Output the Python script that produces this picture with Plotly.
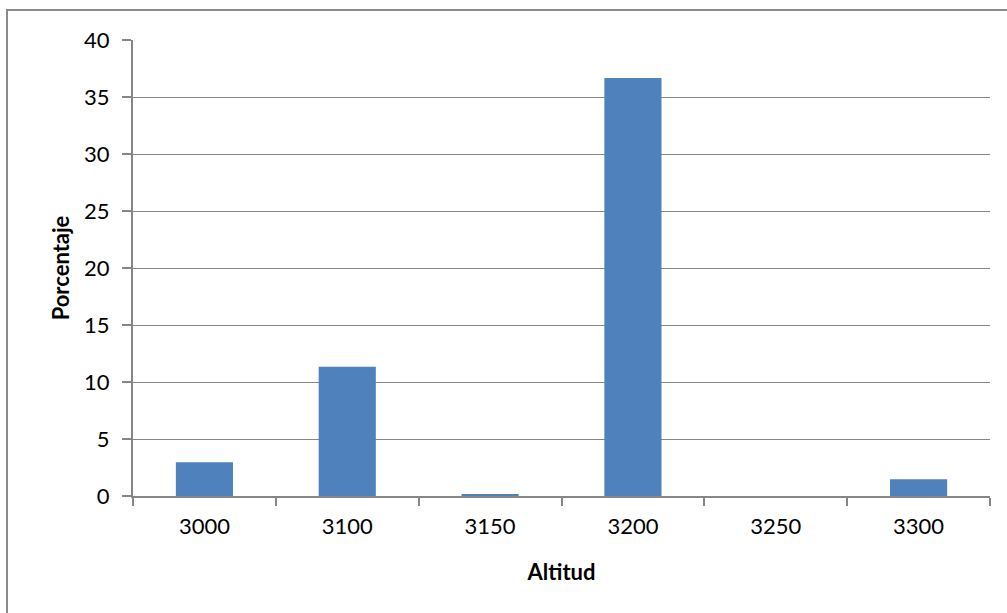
import plotly.graph_objects as go

# Altitude classes and percentage of records in each
altitudes = ["3000", "3100", "3150", "3200", "3250", "3300"]
percentages = [2.96, 11.34, 0.12, 36.67, 0.0, 1.46]
y_ticks = [0, 5, 10, 15, 20, 25, 30, 35, 40]

FONT = "Lato, 'Open Sans', sans-serif"
GRID = "#868686"

fig = go.Figure(
    go.Bar(
        x=altitudes,
        y=percentages,
        marker=dict(color="#4F81BD", line=dict(width=0)),
        hoverinfo="x+y",
    )
)

# plot area spans px 133..990 horizontally and 40..496 vertically
L, R, T, B = 133, 990, 40, 496
W, H = 1007, 613

def px_x(px):
    return (px - L) / (R - L)

def px_y(py):
    return (B - py) / (B - T)

fig.update_layout(
    width=W,
    height=H,
    margin=dict(l=L, r=W - R, t=T, b=H - B),
    paper_bgcolor="white",
    plot_bgcolor="white",
    bargap=0.6,
    showlegend=False,
    font=dict(family=FONT, color="#000000", size=22),
    xaxis=dict(
        type="category",
        tickson="boundaries",
        ticks="outside",
        ticklen=8,
        tickwidth=2,
        tickcolor=GRID,
        showline=True,
        linecolor=GRID,
        linewidth=2,
        showgrid=False,
        tickfont=dict(size=22),
        ticklabelstandoff=10,
        title=dict(text="<b>Altitud</b>", font=dict(size=22), standoff=26),
    ),
    yaxis=dict(
        range=[0, 40],
        tickvals=y_ticks,
        ticks="outside",
        ticklen=9,
        tickwidth=2,
        tickcolor=GRID,
        showline=True,
        linecolor=GRID,
        linewidth=2,
        showgrid=True,
        gridcolor=GRID,
        gridwidth=1,
        zeroline=False,
        tickfont=dict(size=22),
        ticklabelstandoff=8,
        title=dict(text="<b>Porcentaje</b>", font=dict(size=22), standoff=8),
    ),
    shapes=[
        dict(
            type="rect",
            xref="paper",
            yref="paper",
            x0=px_x(7),
            x1=px_x(1012),
            y0=px_y(620),
            y1=px_y(10),
            line=dict(color="#8A8A8A", width=2),
            fillcolor="rgba(0,0,0,0)",
            layer="below",
        )
    ],
)

fig.write_html("out.html")
